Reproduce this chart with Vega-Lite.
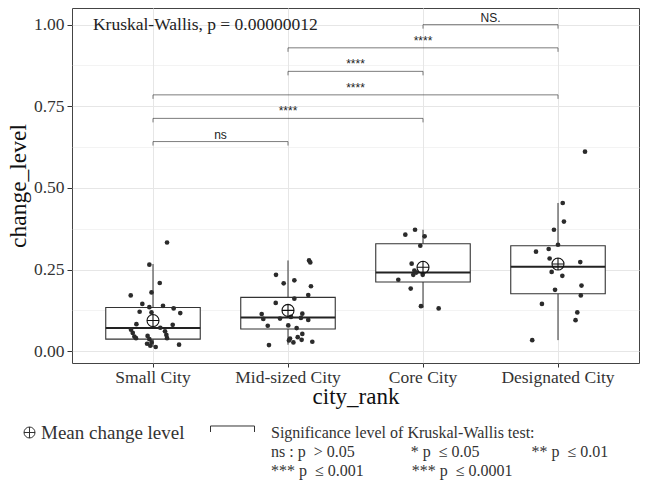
{
  "$schema": "https://vega.github.io/schema/vega-lite/v6.json",
  "width": 567,
  "height": 355,
  "autosize": {"type": "none"},
  "padding": {"left": 72, "top": 8, "right": 7, "bottom": 117},
  "background": "white",
  "config": {
    "view": {"stroke": "#444", "strokeWidth": 1},
    "font": "Liberation Serif",
    "style": {"guide-label": {"lineHeight": 19}}
  },
  "datasets": {
    "points": [
      {"group": "Small City", "value": 0.333, "jitter": 0.104},
      {"group": "Small City", "value": 0.265, "jitter": -0.027},
      {"group": "Small City", "value": 0.209, "jitter": 0.05},
      {"group": "Small City", "value": 0.180, "jitter": -0.011},
      {"group": "Small City", "value": 0.171, "jitter": -0.165},
      {"group": "Small City", "value": 0.145, "jitter": -0.079},
      {"group": "Small City", "value": 0.135, "jitter": -0.027},
      {"group": "Small City", "value": 0.139, "jitter": 0.074},
      {"group": "Small City", "value": 0.131, "jitter": 0.153},
      {"group": "Small City", "value": 0.121, "jitter": -0.099},
      {"group": "Small City", "value": 0.119, "jitter": -0.011},
      {"group": "Small City", "value": 0.117, "jitter": 0.202},
      {"group": "Small City", "value": 0.083, "jitter": -0.123},
      {"group": "Small City", "value": 0.072, "jitter": 0.054},
      {"group": "Small City", "value": 0.081, "jitter": 0.146},
      {"group": "Small City", "value": 0.066, "jitter": -0.163},
      {"group": "Small City", "value": 0.056, "jitter": -0.150},
      {"group": "Small City", "value": 0.045, "jitter": -0.138},
      {"group": "Small City", "value": 0.040, "jitter": -0.126},
      {"group": "Small City", "value": 0.061, "jitter": 0.089},
      {"group": "Small City", "value": 0.050, "jitter": 0.099},
      {"group": "Small City", "value": 0.040, "jitter": 0.104},
      {"group": "Small City", "value": 0.047, "jitter": -0.040},
      {"group": "Small City", "value": 0.037, "jitter": -0.027},
      {"group": "Small City", "value": 0.023, "jitter": -0.044},
      {"group": "Small City", "value": 0.027, "jitter": -0.010},
      {"group": "Small City", "value": 0.013, "jitter": 0.020},
      {"group": "Small City", "value": 0.017, "jitter": -0.020},
      {"group": "Small City", "value": 0.020, "jitter": 0.193},
      {"group": "Mid-sized City", "value": 0.278, "jitter": 0.156},
      {"group": "Mid-sized City", "value": 0.272, "jitter": 0.165},
      {"group": "Mid-sized City", "value": 0.234, "jitter": -0.089},
      {"group": "Mid-sized City", "value": 0.217, "jitter": 0.047},
      {"group": "Mid-sized City", "value": 0.208, "jitter": -0.032},
      {"group": "Mid-sized City", "value": 0.199, "jitter": 0.170},
      {"group": "Mid-sized City", "value": 0.172, "jitter": 0.150},
      {"group": "Mid-sized City", "value": 0.161, "jitter": 0.047},
      {"group": "Mid-sized City", "value": 0.148, "jitter": -0.091},
      {"group": "Mid-sized City", "value": 0.114, "jitter": -0.195},
      {"group": "Mid-sized City", "value": 0.099, "jitter": -0.183},
      {"group": "Mid-sized City", "value": 0.115, "jitter": 0.106},
      {"group": "Mid-sized City", "value": 0.102, "jitter": 0.096},
      {"group": "Mid-sized City", "value": 0.096, "jitter": 0.150},
      {"group": "Mid-sized City", "value": 0.100, "jitter": -0.059},
      {"group": "Mid-sized City", "value": 0.105, "jitter": 0.022},
      {"group": "Mid-sized City", "value": 0.078, "jitter": -0.150},
      {"group": "Mid-sized City", "value": 0.079, "jitter": 0.002},
      {"group": "Mid-sized City", "value": 0.071, "jitter": 0.064},
      {"group": "Mid-sized City", "value": 0.053, "jitter": 0.106},
      {"group": "Mid-sized City", "value": 0.043, "jitter": 0.072},
      {"group": "Mid-sized City", "value": 0.035, "jitter": 0.101},
      {"group": "Mid-sized City", "value": 0.039, "jitter": 0.015},
      {"group": "Mid-sized City", "value": 0.027, "jitter": 0.040},
      {"group": "Mid-sized City", "value": 0.033, "jitter": 0.007},
      {"group": "Mid-sized City", "value": 0.029, "jitter": 0.180},
      {"group": "Mid-sized City", "value": 0.019, "jitter": -0.141},
      {"group": "Core City", "value": 0.372, "jitter": -0.059},
      {"group": "Core City", "value": 0.357, "jitter": -0.131},
      {"group": "Core City", "value": 0.352, "jitter": 0.012},
      {"group": "Core City", "value": 0.323, "jitter": -0.020},
      {"group": "Core City", "value": 0.268, "jitter": -0.084},
      {"group": "Core City", "value": 0.247, "jitter": -0.064},
      {"group": "Core City", "value": 0.241, "jitter": -0.050},
      {"group": "Core City", "value": 0.234, "jitter": -0.072},
      {"group": "Core City", "value": 0.234, "jitter": -0.002},
      {"group": "Core City", "value": 0.219, "jitter": -0.183},
      {"group": "Core City", "value": 0.192, "jitter": -0.091},
      {"group": "Core City", "value": 0.138, "jitter": -0.015},
      {"group": "Core City", "value": 0.131, "jitter": 0.116},
      {"group": "Designated City", "value": 0.611, "jitter": 0.200},
      {"group": "Designated City", "value": 0.454, "jitter": 0.035},
      {"group": "Designated City", "value": 0.397, "jitter": 0.044},
      {"group": "Designated City", "value": 0.372, "jitter": -0.030},
      {"group": "Designated City", "value": 0.326, "jitter": 0.000},
      {"group": "Designated City", "value": 0.305, "jitter": -0.163},
      {"group": "Designated City", "value": 0.313, "jitter": -0.069},
      {"group": "Designated City", "value": 0.284, "jitter": -0.062},
      {"group": "Designated City", "value": 0.273, "jitter": 0.165},
      {"group": "Designated City", "value": 0.243, "jitter": -0.047},
      {"group": "Designated City", "value": 0.231, "jitter": 0.032},
      {"group": "Designated City", "value": 0.201, "jitter": 0.174},
      {"group": "Designated City", "value": 0.171, "jitter": 0.169},
      {"group": "Designated City", "value": 0.188, "jitter": -0.022},
      {"group": "Designated City", "value": 0.145, "jitter": -0.119},
      {"group": "Designated City", "value": 0.119, "jitter": 0.143},
      {"group": "Designated City", "value": 0.095, "jitter": 0.130},
      {"group": "Designated City", "value": 0.034, "jitter": -0.191}
    ],
    "summary": [
      {"group": "Small City", "lower": 0.013, "q1": 0.037, "median": 0.071, "q3": 0.134, "upper": 0.267, "mean": 0.094},
      {"group": "Mid-sized City", "lower": 0.020, "q1": 0.068, "median": 0.103, "q3": 0.165, "upper": 0.278, "mean": 0.125},
      {"group": "Core City", "lower": 0.133, "q1": 0.212, "median": 0.241, "q3": 0.329, "upper": 0.372, "mean": 0.257},
      {"group": "Designated City", "lower": 0.034, "q1": 0.176, "median": 0.259, "q3": 0.323, "upper": 0.454, "mean": 0.267}
    ],
    "brackets": [
      {"from": 1, "to": 2, "level": 0.642, "label": "ns"},
      {"from": 1, "to": 3, "level": 0.713, "label": "****"},
      {"from": 1, "to": 4, "level": 0.785, "label": "****"},
      {"from": 2, "to": 3, "level": 0.857, "label": "****"},
      {"from": 2, "to": 4, "level": 0.929, "label": "****"},
      {"from": 3, "to": 4, "level": 1.0, "label": "NS."}
    ]
  },
  "layer": [
    {
      "encoding": {
        "x": {
          "field": "group", "type": "nominal",
          "scale": {"domain": ["Small City", "Mid-sized City", "Core City", "Designated City"], "paddingInner": 0.3, "paddingOuter": 0.25},
          "axis": {
            "title": "city_rank", "titleFont": "Liberation Serif", "titleFontSize": 23, "titleFontWeight": "normal", "titleColor": "#111", "titlePadding": 0,
            "labelFont": "Liberation Serif", "labelFontSize": 17.5, "labelColor": "#333", "labelAngle": 0, "labelPadding": 1,
            "tickSize": 4, "tickColor": "#333", "domain": false,
            "grid": true, "gridColor": "#e6e6e6", "gridWidth": 1, "bandPosition": 0.5
          }
        }
      },
      "layer": [
        {
          "data": {"name": "summary"},
          "mark": {"type": "rule", "stroke": "#333", "strokeWidth": 1},
          "encoding": {"y": {"field": "lower", "type": "quantitative"}, "y2": {"field": "q1"}}
        },
        {
          "data": {"name": "summary"},
          "mark": {"type": "rule", "stroke": "#333", "strokeWidth": 1},
          "encoding": {"y": {"field": "q3", "type": "quantitative"}, "y2": {"field": "upper"}}
        },
        {
          "data": {"name": "summary"},
          "mark": {"type": "bar", "fill": "white", "stroke": "#333", "strokeWidth": 1.1},
          "encoding": {
            "y": {
              "field": "q1", "type": "quantitative",
              "scale": {"domain": [-0.036, 1.051], "nice": false, "zero": false},
              "axis": {
                "title": "change_level", "titleFont": "Liberation Serif", "titleFontSize": 23.5, "titleFontWeight": "normal", "titleColor": "#111", "titlePadding": 3,
                "values": [0, 0.125, 0.25, 0.375, 0.5, 0.625, 0.75, 0.875, 1.0],
                "labelExpr": "datum.value % 0.25 == 0 ? format(datum.value, '.2f') : ''",
                "labelFont": "Liberation Serif", "labelFontSize": 17.5, "labelColor": "#333", "labelPadding": 3,
                "tickSize": 5, "tickColor": "#333",
                "tickOpacity": {"condition": {"test": "datum.value % 0.25 != 0", "value": 0}, "value": 1},
                "domain": false,
                "grid": true, "gridColor": "#e6e6e6",
                "gridWidth": {"condition": {"test": "datum.value % 0.25 != 0", "value": 0.5}, "value": 1}
              }
            },
            "y2": {"field": "q3"}
          }
        },
        {
          "data": {"name": "summary"},
          "mark": {"type": "bar", "fill": null, "stroke": "#222", "strokeWidth": 2},
          "encoding": {"y": {"field": "median", "type": "quantitative"}, "y2": {"field": "median"}}
        },
        {
          "data": {"name": "points"},
          "mark": {"type": "point", "filled": true, "color": "#2b2b2b", "size": 22, "opacity": 1},
          "encoding": {
            "xOffset": {"field": "jitter", "type": "quantitative", "scale": {"domain": [-0.35, 0.35]}},
            "y": {"field": "value", "type": "quantitative"}
          }
        },
        {
          "data": {"name": "summary"},
          "mark": {"type": "point", "filled": false, "stroke": "#111", "strokeWidth": 1.1, "size": 144, "opacity": 1,
                   "shape": "M-1,0A1,1,0,1,1,1,0A1,1,0,1,1,-1,0M-1,0L1,0M0,-1L0,1"},
          "encoding": {
            "y": {"field": "mean", "type": "quantitative"}
          }
        },
        {
          "data": {"name": "summary"},
          "mark": {"type": "point", "filled": false, "stroke": "#111", "strokeWidth": 1, "size": 121, "opacity": 0},
          "encoding": {
            "y": {"field": "mean", "type": "quantitative"},
            "shape": {
              "datum": "Mean change level",
              "type": "nominal",
              "scale": {
                "domain": ["Mean change level"],
                "range": ["M-1,0A1,1,0,1,1,1,0A1,1,0,1,1,-1,0M-1,0L1,0M0,-1L0,1"]
              },
              "legend": {
                "title": null,
                "orient": "none",
                "legendX": -52,
                "legendY": 415,
                "symbolSize": 121,
                "symbolOpacity": 1,
                "symbolStrokeWidth": 1,
                "symbolStrokeColor": "#333",
                "symbolFillColor": "transparent",
                "labelFont": "Liberation Serif",
                "labelFontSize": 19,
                "labelColor": "#333",
                "labelOpacity": 1,
                "labelLimit": 0,
                "labelOffset": 2,
                "labelBaseline": "middle"
              }
            }
          }
        },
        {
          "data": {"name": "summary"},
          "mark": {"type": "point", "filled": false, "strokeWidth": 1, "size": 121, "opacity": 0},
          "encoding": {
            "y": {"field": "mean", "type": "quantitative"},
            "color": {
              "datum": "Significance",
              "type": "nominal",
              "scale": {"domain": ["Significance"], "range": ["#333333"]},
              "legend": {
                "title": null,
                "orient": "none",
                "legendX": 180,
                "legendY": 409,
                "symbolType": "M-9,1.27L-9,0.18L-1,0.18L-1,1.27",
                "symbolSize": 121,
                "symbolOpacity": 1,
                "symbolStrokeWidth": 1,
                "symbolStrokeColor": "#333",
                "symbolFillColor": "transparent",
                "labelFont": "Liberation Serif",
                "labelFontSize": 16,
                "labelColor": "#333",
                "labelOpacity": 1,
                "labelLimit": 0,
                "labelOffset": 3,
                "labelBaseline": "top",
                "labelExpr": "['Significance level of Kruskal-Wallis test:', 'ns : p\u00a0\u00a0> 0.05\u00a0\u00a0\u00a0\u00a0\u00a0\u00a0\u00a0\u00a0\u00a0\u00a0\u00a0\u00a0\u00a0\u00a0* p\u00a0\u00a0≤ 0.05\u00a0\u00a0\u00a0\u00a0\u00a0\u00a0\u00a0\u00a0\u00a0\u00a0\u00a0\u00a0\u00a0** p\u00a0\u00a0≤ 0.01', '*** p\u00a0\u00a0≤ 0.001\u00a0\u00a0\u00a0\u00a0\u00a0\u00a0\u00a0\u00a0\u00a0\u00a0\u00a0\u00a0*** p\u00a0\u00a0≤ 0.0001']"
              }
            }
          }
        }
      ],
      "resolve": {"scale": {"xOffset": "independent"}}
    },
    {
      "data": {"name": "brackets"},
      "layer": [
        {
          "mark": {"type": "rule", "stroke": "#444", "strokeWidth": 0.7},
          "encoding": {
            "x": {"field": "from", "type": "quantitative", "scale": {"domain": [0.4, 4.6], "nice": false, "zero": false}, "axis": null},
            "x2": {"field": "to"},
            "y": {"field": "level", "type": "quantitative"}
          }
        },
        {
          "transform": [{"fold": ["from", "to"], "as": ["end", "pos"]}],
          "mark": {"type": "rule", "stroke": "#444", "strokeWidth": 0.7, "y2Offset": 4},
          "encoding": {
            "x": {"field": "pos", "type": "quantitative", "axis": null},
            "y": {"field": "level", "type": "quantitative"},
            "y2": {"field": "level"}
          }
        },
        {
          "transform": [{"calculate": "(datum.from + datum.to) / 2", "as": "mid"}],
          "mark": {"type": "text", "font": "Liberation Sans", "fontSize": 12, "color": "#222", "baseline": "alphabetic", "dy": -3},
          "encoding": {
            "x": {"field": "mid", "type": "quantitative", "axis": null},
            "y": {"field": "level", "type": "quantitative"},
            "text": {"field": "label"}
          }
        },
        {
          "data": {"values": [{"label": "Kruskal-Wallis, p = 0.00000012"}]},
          "mark": {"type": "text", "font": "Liberation Serif", "fontSize": 17.5, "color": "#222", "align": "left", "baseline": "middle"},
          "encoding": {
            "x": {"datum": 0.555, "type": "quantitative", "axis": null},
            "y": {"datum": 1.0, "type": "quantitative"},
            "text": {"field": "label"}
          }
        }
      ]
    }
  ],
  "resolve": {"scale": {"x": "independent"}}
}
